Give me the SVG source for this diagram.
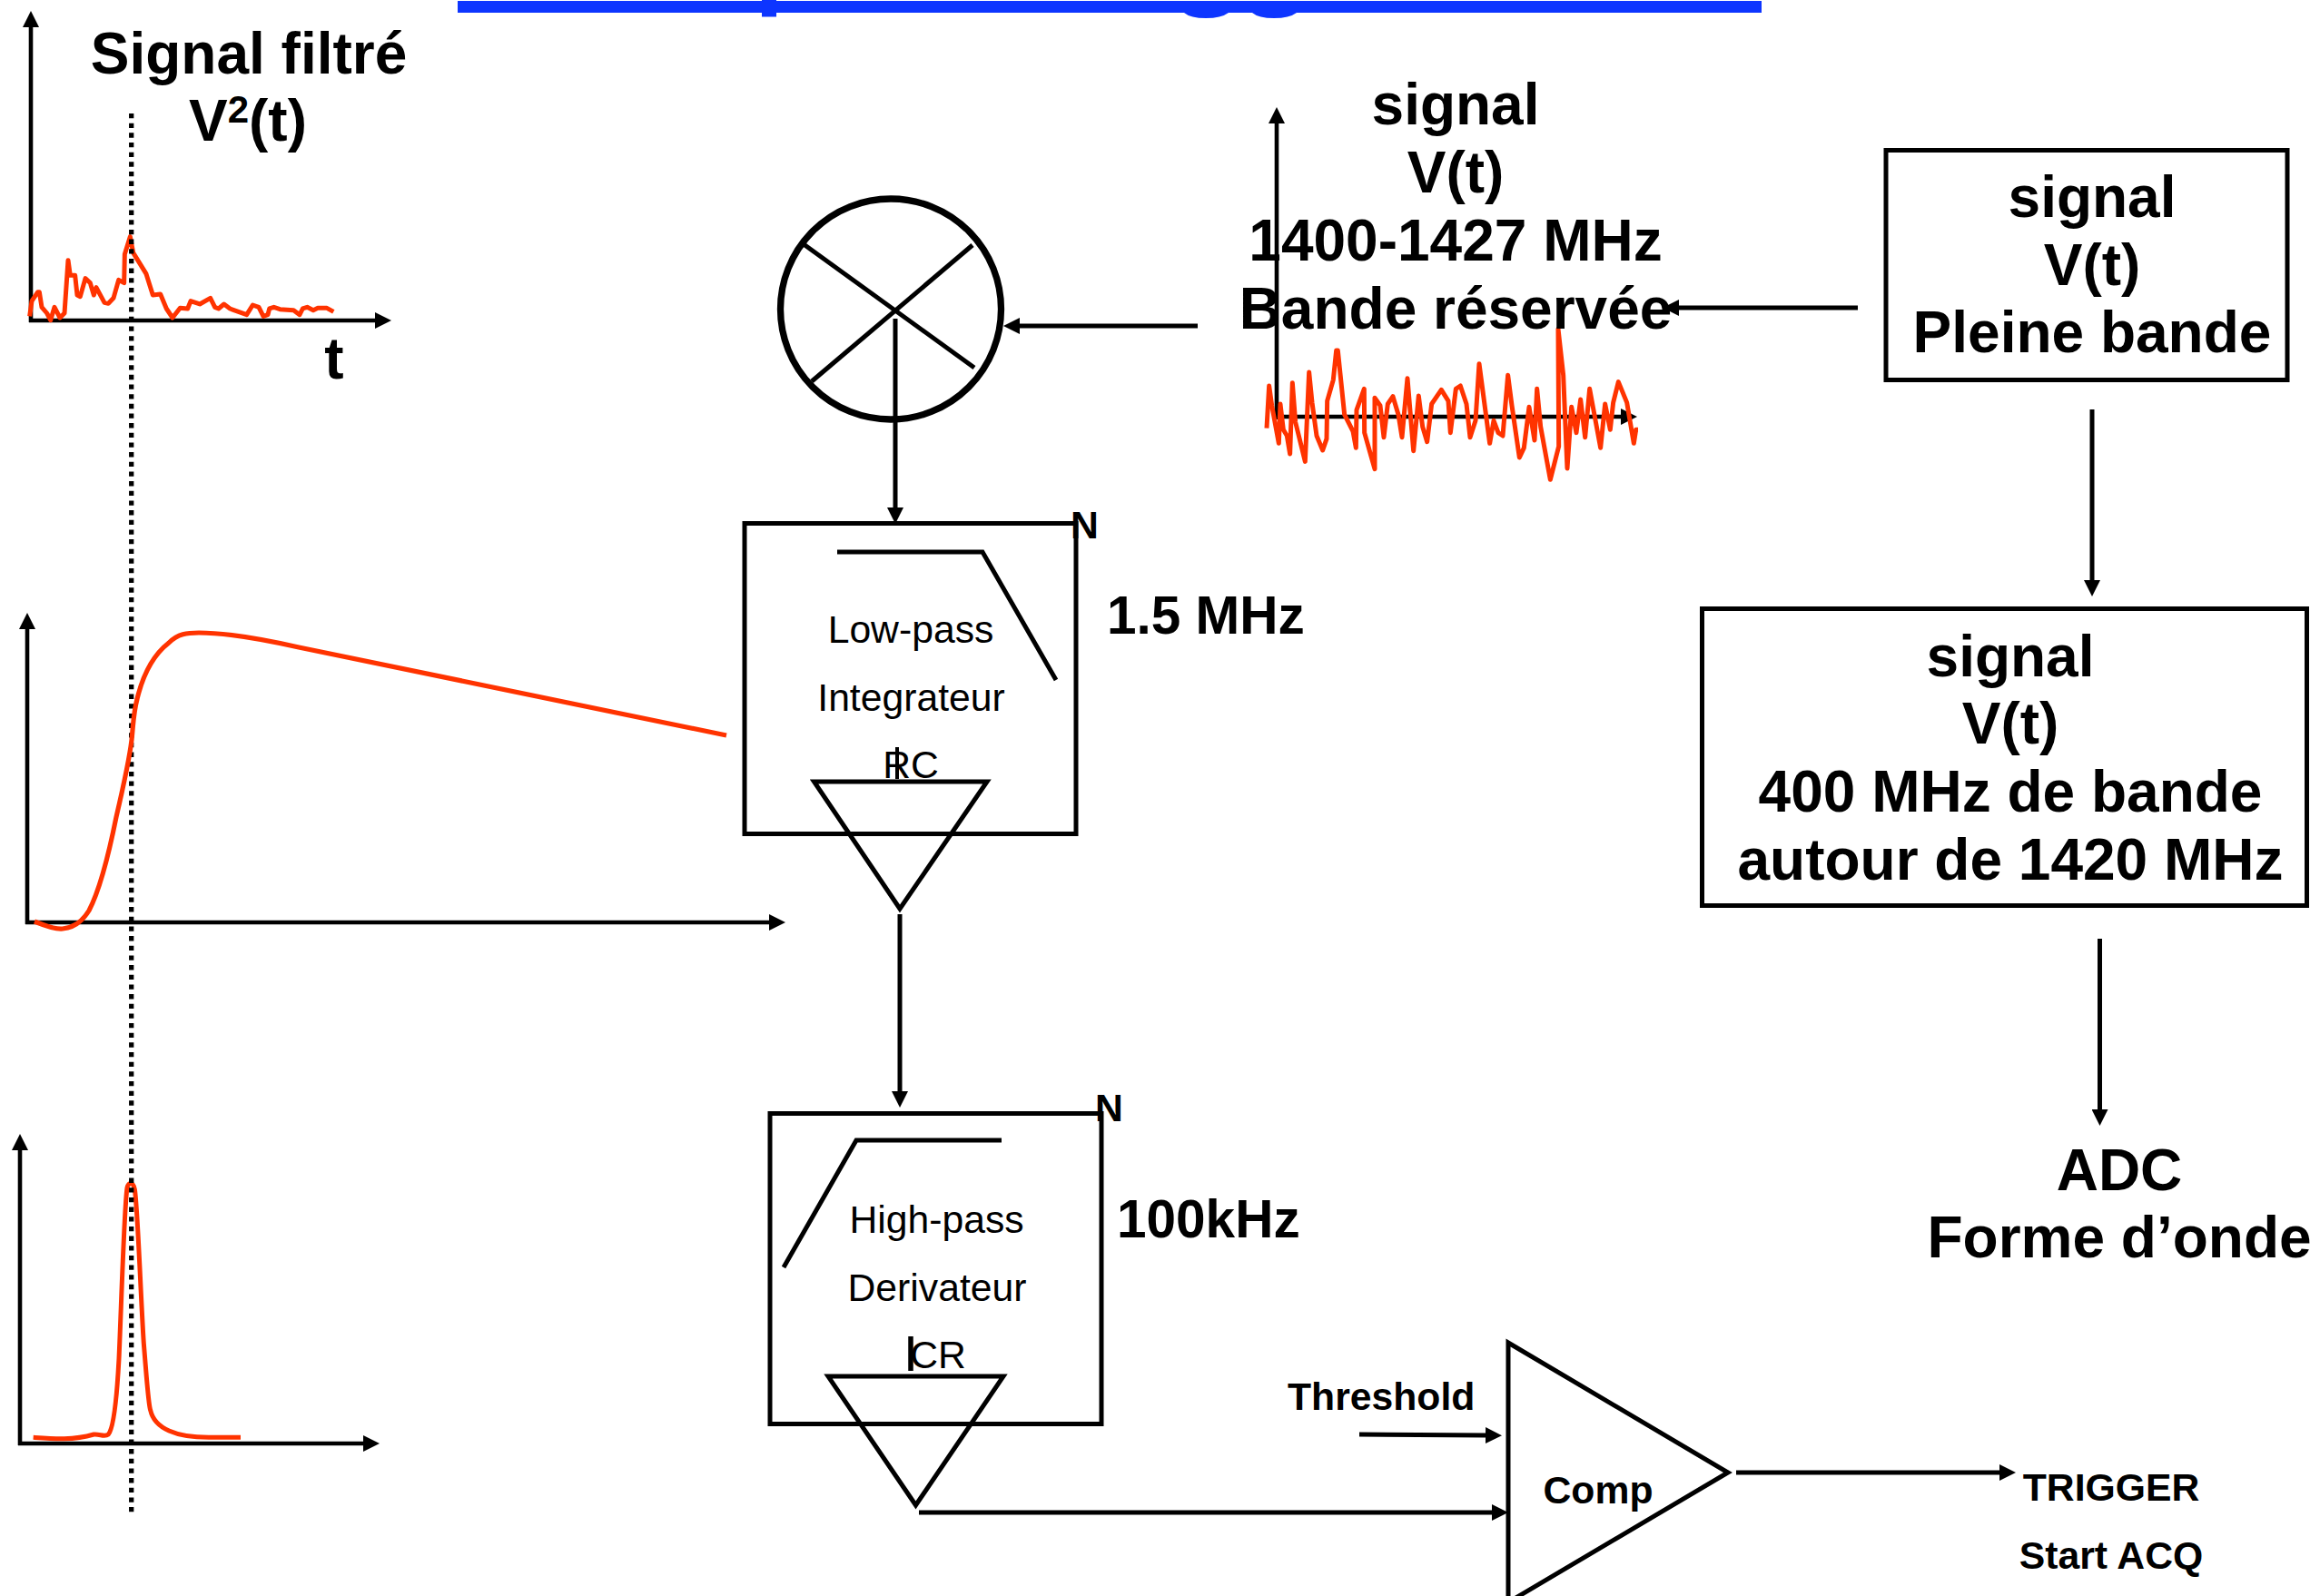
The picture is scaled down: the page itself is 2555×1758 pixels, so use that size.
<svg xmlns="http://www.w3.org/2000/svg" width="2555" height="1758" viewBox="0 0 2555 1758">
  <style>
    text { font-family: "Liberation Sans", Arial, sans-serif; fill: #000; }
    .b63 { font-size: 64px; font-weight: 700; text-anchor: middle; }
    .b58 { font-size: 58.5px; font-weight: 700; }
    .b42 { font-size: 42.7px; font-weight: 700; }
    .m { text-anchor: middle; }
    .r42 { font-size: 42.7px; text-anchor: middle; }
    .ln { fill: none; stroke: #000; stroke-width: 5; }
    .box { fill: none; stroke: #000; stroke-width: 5; }
    .ar { fill: none; stroke: #000; stroke-width: 5; marker-end: url(#head); }
    .ax { fill: none; stroke: #000; stroke-width: 4.6; marker-end: url(#head); }
    .red { fill: none; stroke: #ff3300; stroke-linejoin: round; }
    .dot { fill: none; stroke: #000; stroke-width: 5.3; stroke-dasharray: 5.33 5.33; }
  </style>
  <defs>
    <marker id="head" markerUnits="userSpaceOnUse" markerWidth="18" markerHeight="18" refX="0" refY="9" orient="auto">
      <polygon points="0,0 18,9 0,18" fill="#000"/>
    </marker>
  </defs>
  <rect width="2555" height="1758" fill="#fff"/>

  <g id="title-rule" fill="#0d35ff">
    <rect x="504" y="1" width="1436" height="13"/>
    <rect x="839" y="0" width="16" height="18.5"/>
    <path d="M1304,14 Q1311,20 1328,20 Q1345,20 1353,14 Z"/>
    <path d="M1379,14 Q1386,20 1403,20 Q1420,20 1428,14 Z"/>
  </g>

  <g id="chart-filtered">
    <line class="ax" x1="34" y1="355" x2="34" y2="30"/>
    <line class="ax" x1="32" y1="353" x2="413" y2="353"/>
    <polyline class="red" transform="scale(0.33333)" stroke-width="15" points="98,1045 105,995 125,965 130,965 138,1015 155,1035 167,1058 180,1015 198,1050 213,1035 225,860 232,910 248,910 255,975 265,980 282,920 298,935 310,975 318,950 345,1000 358,1003 375,985 392,925 410,935 412,840 430,782 440,835 483,905 505,975 530,972 550,1020 570,1050 595,1018 620,1020 630,995 660,1005 695,985 710,1015 722,1020 740,1005 760,1020 815,1040 835,1008 855,1015 870,1045 885,1040 890,1020 905,1015 925,1022 970,1025 990,1040 1000,1020 1015,1015 1035,1025 1050,1018 1080,1018 1102,1030"/>
    <text class="b63" x="274" y="81">Signal filtré</text>
    <text class="b63" x="273" y="155">V<tspan font-size="42" dy="-20">2</tspan><tspan dy="20">(t)</tspan></text>
    <text class="b63" x="368" y="417">t</text>
  </g>

  <g id="chart-peak">
    <line class="ax" x1="22" y1="1592" x2="22" y2="1267"/>
    <line class="ax" x1="20" y1="1590" x2="400" y2="1590"/>
    <path class="red" transform="translate(0,1230) scale(0.33333)" stroke-width="15" d="M110,1060 C180,1065 240,1070 310,1050 C330,1048 345,1060 358,1050 C375,1030 385,950 393,800 C400,650 410,300 420,235 C425,215 440,215 445,240 C455,300 465,600 475,750 C485,870 490,950 497,970 C510,1030 580,1062 700,1060 L795,1060"/>
  </g>

  <g id="time-marker">
    <line class="dot" x1="144.7" y1="125" x2="144.7" y2="1667"/>
  </g>

  <g id="chart-integrated">
    <line class="ax" x1="30" y1="1018" x2="30" y2="693"/>
    <line class="ax" x1="28" y1="1016" x2="847" y2="1016"/>
    <path class="red" stroke-width="5.2" d="M38,1015 C48,1019 60,1024 69,1023 C80,1022 90,1016 98,1003 C110,980 120,940 128,900 C135,870 142,840 145,815 C147,795 147,785 151,770 C157,745 168,722 186,708 C196,698 206,697 219,697 C245,697 280,702 329,713 C400,727 600,768 800,810"/>
  </g>

  <g id="chart-noise">
    <line class="ax" x1="1406" y1="462" x2="1406" y2="136"/>
    <line class="ax" x1="1404" y1="459" x2="1785" y2="459"/>
    <polyline class="red" transform="translate(1330,330) scale(0.33333)" stroke-width="15" points="195,425 203,285 212,350 235,475 240,345 250,430 262,450 272,510 280,275 290,405 322,535 335,240 345,340 360,450 380,498 393,460 395,335 415,265 425,168 430,168 452,380 480,435 490,490 492,365 517,295 518,440 552,560 552,325 570,350 582,455 595,345 612,320 630,380 642,455 660,260 680,500 697,318 710,420 725,470 740,345 772,298 795,335 802,440 820,295 835,285 855,345 867,455 885,400 897,212 932,475 945,400 960,440 975,450 992,250 1005,350 1030,522 1045,490 1062,355 1080,465 1088,295 1100,420 1132,595 1160,485 1158,97 1175,250 1188,558 1202,355 1218,440 1232,330 1247,455 1262,295 1298,490 1313,345 1330,430 1340,340 1357,272 1385,340 1408,475 1415,430 1422,430"/>
  </g>

  <g id="connectors">
    <line class="ar" x1="2046" y1="339" x2="1849" y2="339"/>
    <line class="ar" x1="1319" y1="359" x2="1123" y2="359"/>
    <line class="ar" x1="986" y1="351" x2="986" y2="559"/>
    <line class="ar" x1="991" y1="1007" x2="991" y2="1202"/>
    <line class="ar" x1="2304" y1="451" x2="2304" y2="639"/>
    <line class="ar" x1="2312.5" y1="1034" x2="2312.5" y2="1222"/>
    <line class="ar" x1="1012" y1="1666" x2="1643" y2="1666"/>
    <line class="ar" x1="1497" y1="1580" x2="1636" y2="1581"/>
    <line class="ar" x1="1912" y1="1622" x2="2202" y2="1622"/>
  </g>

  <g id="mixer">
    <circle cx="981" cy="340.5" r="121.5" fill="none" stroke="#000" stroke-width="7.3"/>
    <line class="ln" x1="885" y1="269" x2="1073" y2="405"/>
    <line class="ln" x1="1071" y1="270" x2="894" y2="420"/>
  </g>

  <g id="label-reserved-band">
    <text class="b63" x="1603" y="137">signal</text>
    <text class="b63" x="1603" y="212">V(t)</text>
    <text class="b63" x="1603" y="287">1400-1427 MHz</text>
    <text class="b63" x="1603" y="362">Bande réservée</text>
  </g>

  <g id="box-full-band">
    <rect class="box" x="2077" y="165.5" width="442" height="253"/>
    <text class="b63" x="2304" y="239">signal</text>
    <text class="b63" x="2304" y="314">V(t)</text>
    <text class="b63" x="2304" y="388">Pleine bande</text>
  </g>

  <g id="box-400mhz">
    <rect class="box" x="1874.5" y="670.5" width="666" height="327"/>
    <text class="b63" x="2214" y="744.5">signal</text>
    <text class="b63" x="2214" y="819">V(t)</text>
    <text class="b63" x="2214" y="894">400 MHz de bande</text>
    <text class="b63" x="2214" y="968.5">autour de 1420 MHz</text>
  </g>

  <g id="label-adc">
    <text class="b63" x="2334" y="1311">ADC</text>
    <text class="b63" x="2334" y="1385">Forme d’onde</text>
  </g>

  <g id="filter-low-pass">
    <rect class="ln" x="820" y="576.5" width="365" height="342"/>
    <polyline class="ln" points="922,608 1082,608 1163,749"/>
    <text class="b42" x="1179" y="593">N</text>
    <text class="r42" x="1003" y="708">Low-pass</text>
    <text class="r42" x="1003.5" y="783">Integrateur</text>
    <text class="r42" x="1003" y="857">RC</text>
    <line x1="988" y1="823" x2="988" y2="858" stroke="#000" stroke-width="4"/>
    <polygon class="ln" points="896.5,861 1087,861 991,1001"/>
  </g>
  <text class="b58" x="1219" y="698" id="label-cutoff-low">1.5 MHz</text>

  <g id="filter-high-pass">
    <rect class="ln" x="848" y="1226.5" width="365" height="342"/>
    <polyline class="ln" points="863,1396 943,1256 1103,1256"/>
    <text class="b42" x="1206" y="1235">N</text>
    <text class="r42" x="1031.5" y="1358">High-pass</text>
    <text class="r42" x="1032" y="1433">Derivateur</text>
    <text class="r42" x="1033" y="1507">CR</text>
    <line x1="1003" y1="1472" x2="1003" y2="1510" stroke="#000" stroke-width="5.5"/>
    <polygon class="ln" points="912,1516 1105,1516 1008.5,1658"/>
  </g>
  <text class="b58" x="1230" y="1363" id="label-cutoff-high">100kHz</text>

  <g id="comparator">
    <polygon class="ln" points="1661,1479 1903,1622 1661,1765"/>
    <text class="b42 m" x="1760" y="1656">Comp</text>
  </g>
  <text class="b42" x="1418" y="1553" id="label-threshold">Threshold</text>
  <g id="label-trigger">
    <text class="b42 m" x="2325" y="1653">TRIGGER</text>
    <text class="b42 m" x="2325" y="1728">Start ACQ</text>
  </g>
</svg>
